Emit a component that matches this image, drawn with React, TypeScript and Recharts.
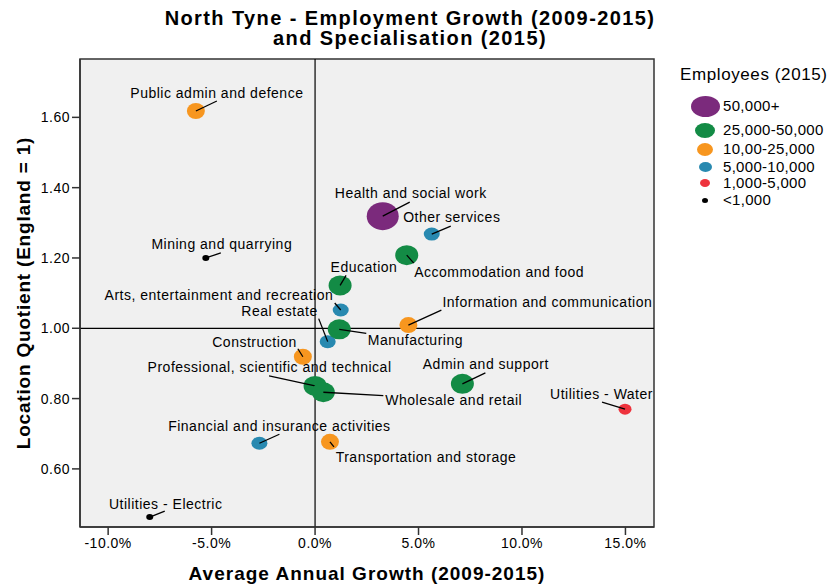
import React from 'react';
import {
  ScatterChart,
  Scatter,
  XAxis,
  YAxis,
  ReferenceArea,
  ReferenceLine,
  Label
} from 'recharts';

const sectors = [
  'Public admin and defence',
  'Mining and quarrying',
  'Health and social work',
  'Other services',
  'Accommodation and food',
  'Education',
  'Arts, entertainment and recreation',
  'Real estate',
  'Manufacturing',
  'Information and communication',
  'Construction',
  'Professional, scientific and technical',
  'Wholesale and retail',
  'Admin and support',
  'Utilities - Water',
  'Financial and insurance activities',
  'Transportation and storage',
  'Utilities - Electric'
];

// average annual growth 2009-2015, %
const growth = [-5.76, -5.28, 3.27, 5.64, 4.43, 1.21, 1.24, 0.61, 1.17, 4.51, -0.59, 0.0, 0.4, 7.12, 14.98, -2.69, 0.72, -7.99];

// location quotient 2015
const lq = [1.618, 1.2, 1.319, 1.268, 1.208, 1.122, 1.052, 0.962, 0.997, 1.009, 0.919, 0.836, 0.818, 0.842, 0.77, 0.673, 0.677, 0.463];

// index into bands
const band = [2, 5, 0, 3, 1, 1, 3, 3, 1, 2, 2, 1, 1, 1, 4, 3, 2, 5];

const bands = ['50,000+', '25,000-50,000', '10,00-25,000', '5,000-10,000', '1,000-5,000', '<1,000'];
const bandColors = ['#7b2a7c', '#138b45', '#f7961f', '#2889b0', '#ee333d', '#000000'];

const xTicks = [-10, -5, 0, 5, 10, 15];
const yTicks = [0.6, 0.8, 1.0, 1.2, 1.4, 1.6];

// marker radii per band (plot and legend)
const markerR = [[16, 14], [11.5, 10], [9, 8], [8, 6.5], [6.5, 5.5], [3.5, 3]];
const legendR = [[14.5, 10.5], [10, 7.5], [8, 6.5], [6.5, 5], [5, 4], [3, 2.5]];

// label placement, pixels from the marker centre: leader end, text pos, anchor
const labelPos: Record<string, [number, number, number, number, string]> = {
  'Public admin and defence': [21, -10, 21, -18, 'middle'],
  'Mining and quarrying': [15, -5, 16, -13.5, 'middle'],
  'Health and social work': [27, -14, 28, -23, 'middle'],
  'Other services': [19, -8, 20, -17, 'middle'],
  'Accommodation and food': [7, 8, 7.5, 17, 'start'],
  'Education': [6, -10, -9.5, -18.5, 'start'],
  'Arts, entertainment and recreation': [-6, -7, -7.5, -15, 'end'],
  'Real estate': [-9, -23, -10, -31, 'end'],
  'Manufacturing': [27, 4, 28.5, 11, 'start'],
  'Information and communication': [33, -15, 34, -23, 'start'],
  'Construction': [-5, -8, -6, -14.5, 'end'],
  'Professional, scientific and technical': [-46, -10, -45.5, -18.7, 'middle'],
  'Wholesale and retail': [60, 3.4, 62, 8, 'start'],
  'Admin and support': [23, -11, 23.4, -19.7, 'middle'],
  'Utilities - Water': [-23, -7, -23.5, -15, 'middle'],
  'Financial and insurance activities': [20, -9, 20, -17.6, 'middle'],
  'Transportation and storage': [4, 5, 5.7, 15, 'start'],
  'Utilities - Electric': [15, -6, 16, -13, 'middle']
};

const data = sectors.map((name, i) => ({ name, x: growth[i], y: lq[i], band: band[i] }));

const FONT = '"Liberation Sans", Arial, sans-serif';

const Bubble = (props: any) => {
  const { cx, cy, payload } = props;
  const [rx, ry] = markerR[payload.band];
  const p = labelPos[payload.name];
  return (
    <g>
      <ellipse cx={cx} cy={cy} rx={rx} ry={ry} fill={bandColors[payload.band]} />
      <line x1={cx} y1={cy} x2={cx + p[0]} y2={cy + p[1]} stroke="#000" strokeWidth={1.3} />
      <text
        x={cx + p[2]}
        y={cy + p[3]}
        dy="0.35em"
        textAnchor={p[4] as any}
        fontSize={14}
        letterSpacing={0.5}
        fontFamily={FONT}
        fill="#000"
      >
        {payload.name}
      </text>
    </g>
  );
};

const YTitle = (props: any) => {
  const { viewBox } = props;
  const cx = viewBox.x + 15;
  const cy = viewBox.y + viewBox.height / 2;
  return (
    <text x={cx} y={cy} dy="0.35em" transform={`rotate(-90 ${cx} ${cy})`} textAnchor="middle"
      fontSize={19} fontWeight="bold" letterSpacing={0.8} fontFamily={FONT} fill="#000">
      Location Quotient (England = 1)
    </text>
  );
};

const XTitle = (props: any) => {
  const { viewBox } = props;
  const cx = viewBox.x + viewBox.width / 2;
  const cy = viewBox.y + 46;
  return (
    <text x={cx} y={cy} dy="0.35em" textAnchor="middle"
      fontSize={19} fontWeight="bold" letterSpacing={1} fontFamily={FONT} fill="#000">
      Average Annual Growth (2009-2015)
    </text>
  );
};

const tickStyle = { fontSize: 14, fill: '#000', fontFamily: FONT, letterSpacing: 0.5 };

const titleStyle: React.CSSProperties = {
  position: 'absolute', left: 0, width: 804, textAlign: 'center', fontSize: 20,
  fontWeight: 'bold', letterSpacing: 1.4, lineHeight: '20px', whiteSpace: 'nowrap'
};

export default function App() {
  const xMin = -11.36, xMax = 16.38, yMin = 0.4347, yMax = 1.766;
  return (
    <div style={{ position: 'relative', width: 821, height: 577, fontFamily: FONT }}>
      <div style={{ ...titleStyle, top: 0 }}>North Tyne - Employment Growth (2009-2015)</div>
      <div style={{ ...titleStyle, top: 20 }}>and Specialisation (2015)</div>
      <ScatterChart width={821} height={577} margin={{ top: 51, right: 175, bottom: 0, left: 0 }}>
        <ReferenceArea x1={xMin} x2={xMax} y1={yMin} y2={yMax} fill="#f0f0f0" fillOpacity={1} stroke="#333" strokeWidth={1.5} ifOverflow="visible" />
        <XAxis type="number" dataKey="x" domain={[xMin, xMax]} allowDataOverflow ticks={xTicks} tickSize={8} tickMargin={3}
          height={58} tick={tickStyle} tickFormatter={(v: number) => `${v.toFixed(1)}%`} stroke="#333" strokeWidth={1.5}>
          <Label content={XTitle} />
        </XAxis>
        <YAxis type="number" dataKey="y" domain={[yMin, yMax]} allowDataOverflow ticks={yTicks} tickSize={8} tickMargin={2}
          width={72} tick={tickStyle} tickFormatter={(v: number) => v.toFixed(2)} stroke="#333" strokeWidth={1.5}>
          <Label content={YTitle} />
        </YAxis>
        <ReferenceLine x={0} stroke="#000" strokeWidth={1.2} />
        <ReferenceLine y={1} stroke="#000" strokeWidth={1.2} />
        <Scatter data={data} shape={Bubble} isAnimationActive={false} />
      </ScatterChart>
      <div style={{ position: 'absolute', left: 672, top: 57, fontSize: 17, letterSpacing: 0.6, whiteSpace: 'nowrap' }}>
        Employees (2015)
      </div>
      {bands.map((b, i) => {
        const cys = [98, 122, 141, 159, 175, 192];
        const [rx, ry] = legendR[i];
        return (
          <div key={b} style={{ position: 'absolute', left: 697 - rx, top: cys[i] - ry, width: rx * 2, height: ry * 2, borderRadius: '50%', background: bandColors[i] }} />
        );
      })}
      {bands.map((b, i) => {
        const cys = [98, 122, 141, 159, 175, 192];
        return (
          <div key={'t' + b} style={{ position: 'absolute', left: 715, top: cys[i] - 9, fontSize: 15, letterSpacing: 0.3, lineHeight: '18px', whiteSpace: 'nowrap' }}>
            {b}
          </div>
        );
      })}
    </div>
  );
}
